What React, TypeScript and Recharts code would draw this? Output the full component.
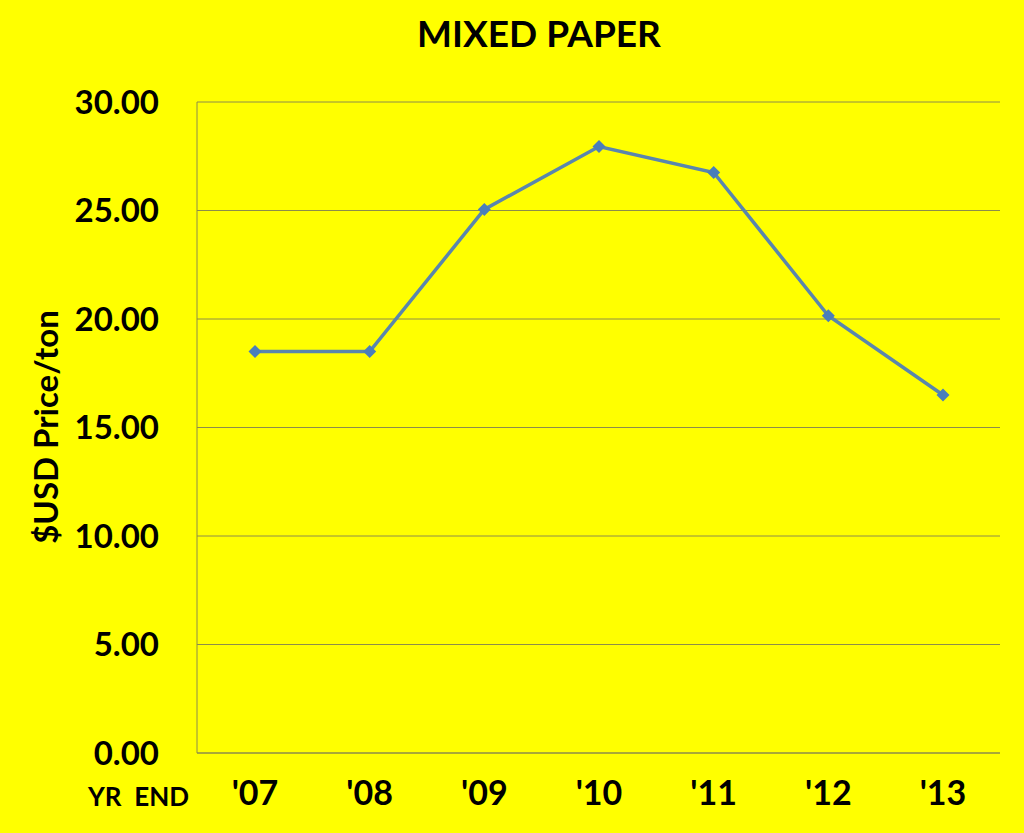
import { LineChart, Line, XAxis, YAxis, CartesianGrid } from "recharts";

const years = ["'07", "'08", "'09", "'10", "'11", "'12", "'13"];
const prices = [18.5, 18.5, 25.05, 27.95, 26.75, 20.15, 16.5];
const yTicks = [0, 5, 10, 15, 20, 25, 30];

const data = years.map((y, i) => ({ year: y, price: prices[i] }));

const FONT = "Lato, 'Open Sans', 'Liberation Sans', sans-serif";
const GRID = "#8c8c4a";

function Diamond(props: any) {
  const { cx, cy } = props;
  if (cx == null || cy == null) return null;
  const r = 6.5;
  return (
    <polygon
      points={`${cx},${cy - r} ${cx + r},${cy} ${cx},${cy + r} ${cx - r},${cy}`}
      fill="#4a7ebb"
    />
  );
}

export default function App() {
  return (
    <div
      style={{
        position: "absolute",
        left: 0,
        top: 0,
        width: 1024,
        height: 833,
        background: "#ffff00",
        fontFamily: FONT,
        overflow: "hidden",
      }}
    >
      <div
        style={{
          position: "absolute",
          top: 10,
          left: 0,
          width: 1078,
          textAlign: "center",
          fontSize: 37,
          fontWeight: 700,
          color: "#000",
        }}
      >
        MIXED PAPER
      </div>
      <div
        style={{
          position: "absolute",
          left: 45,
          top: 427,
          transform: "translate(-50%, -50%) rotate(-90deg)",
          fontSize: 33,
          fontWeight: 700,
          whiteSpace: "nowrap",
          color: "#000",
        }}
      >
        $USD Price/ton
      </div>
      <div
        style={{
          position: "absolute",
          left: 88,
          top: 780,
          fontSize: 26,
          fontWeight: 700,
          whiteSpace: "pre",
          color: "#000",
        }}
      >
        YR  END
      </div>
      <LineChart
        width={1024}
        height={833}
        data={data}
        margin={{ top: 102, right: 24, bottom: 50, left: 57 }}
        style={{ position: "absolute", left: 0, top: 0 }}
      >
        <CartesianGrid horizontal vertical={false} stroke={GRID} strokeWidth={1} />
        <XAxis
          dataKey="year"
          height={30}
          padding={{ left: 58, right: 57 }}
          axisLine={{ stroke: GRID }}
          tickLine={false}
          tickSize={0}
          tickMargin={28}
          tick={{ fontSize: 34, fontWeight: 700, fill: "#000", fontFamily: FONT }}
        />
        <YAxis
          width={140}
          domain={[0, 30]}
          ticks={yTicks}
          axisLine={{ stroke: GRID }}
          tickLine={false}
          tickSize={0}
          tickMargin={38}
          tickFormatter={(v: number) => v.toFixed(2)}
          tick={{ fontSize: 33, fontWeight: 700, fill: "#000", fontFamily: FONT }}
        />
        <Line
          dataKey="price"
          stroke="#5a86ad"
          strokeWidth={3.5}
          dot={<Diamond />}
          activeDot={false}
          isAnimationActive={false}
        />
      </LineChart>
    </div>
  );
}
